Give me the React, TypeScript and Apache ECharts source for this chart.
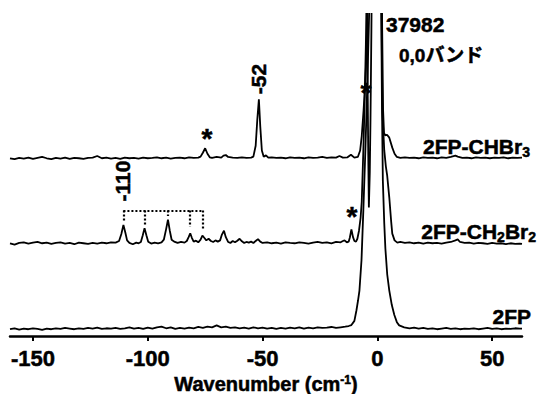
import React, { useEffect, useRef } from "react";
import * as echarts from "echarts";

// x-axis tick values (cm-1)
const xTicks = [-150, -100, -50, 0, 50];

// vertical offsets of the three stacked traces (intensity units)
const traceOffsets = [55.1, 28.7, 2.1];

// 2FP-CHBr3 trace: [wavenumber, intensity above its baseline]
const chbr3: number[][] = [
  [-160, 0.1], [-158, -0.2], [-156, 0.2], [-154, 0.0], [-152, 0.3], [-150, -0.1], [-148, 0.2], [-146, 0.5],
  [-144, 0.1], [-142, -0.2], [-140, 0.2], [-138, 0.0], [-136, 0.3], [-134, -0.1], [-132, 0.2], [-130, 0.1],
  [-128, -0.1], [-126, 0.2], [-124, 0.3], [-122, 0.8], [-120, 0.1], [-118, 0.3], [-116, 0.0], [-114, 0.2],
  [-112, -0.1], [-110, 0.3], [-108, 0.1], [-106, 0.2], [-104, 0.0], [-102, 0.3], [-100, 0.1], [-98, 0.2],
  [-96, 0.4], [-94, 0.1], [-92, 0.3], [-90, 0.0], [-88, 0.2], [-86, 0.3], [-84, 0.1], [-82, 0.4],
  [-80, 0.2], [-78, 0.3], [-77, 0.6], [-76, 1.8], [-75, 3.2], [-74, 1.5], [-73, 0.4], [-72, 0.2],
  [-70, 0.5], [-68, 0.3], [-67, 0.9], [-66, 1.1], [-65, 0.5], [-63, 0.3], [-61, 0.2], [-59, 0.4],
  [-57, 0.2], [-55, 0.3], [-54, 0.6], [-53, 4], [-52.3, 12], [-51.6, 18.4], [-51, 10], [-50.3, 2.5],
  [-49.5, 0.6], [-48.5, 1.0], [-47.5, 0.3], [-46, 0.4], [-44, 0.2], [-42, 0.3], [-40, 0.1], [-38, 0.4],
  [-36, 0.2], [-34, 0.3], [-32, 0.1], [-30, 0.4], [-28, 0.2], [-26, 0.3], [-24, 0.5], [-22, 0.2],
  [-20, 0.4], [-18, 0.3], [-16.5, 0.8], [-15, 0.3], [-13, 0.4], [-11.5, 1.2], [-10, 0.3], [-8.5, 0.5],
  [-7.5, 2.5], [-6.8, 7], [-6, 15], [-5.5, 21], [-5, 28], [-4.5, 38], [-4, 55], [-3.5, 80],
  [-2.5, 150], [-1.2, 250], [0, 200], [1, 150], [1.7, 80], [2.1, 40], [2.5, 15], [2.9, 8],
  [3.4, 7.2], [4.2, 7.4], [5.2, 6.5], [6.5, 3.4], [7.5, 1.5], [8.5, 0.5], [10, 0.2], [12, 0.4],
  [14, 0.2], [16, 0.3], [18, 0.1], [20, 0.4], [22, 0.2], [24, 0.3], [26, 0.1], [28, 0.4],
  [30, 0.2], [32, 0.5], [34, 0.9], [35, 0.6], [37, 0.2], [39, 0.3], [41, 0.1], [43, 0.4],
  [45, 0.2], [47, 0.3], [49, 0.1], [51, 0.3], [53, 0.2], [55, 0.4], [57, 0.1], [59, 0.3],
  [61, 0.2], [63, 0.3],
];

// 2FP-CH2Br2 trace
const ch2br2: number[][] = [
  [-160, 0.1], [-158, -0.3], [-156, 0.2], [-154, 0.4], [-152, 0.0], [-150, 0.3], [-148, 0.5], [-146, 0.1],
  [-144, 0.3], [-142, -0.1], [-140, 0.2], [-138, 0.4], [-136, 0.0], [-134, 0.2], [-132, -0.2], [-130, 0.3],
  [-128, 0.1], [-126, -0.1], [-124, 0.2], [-122, 0.0], [-120, 0.3], [-118, 0.1], [-116, 0.4], [-114, 0.3],
  [-112.5, 0.8], [-111.5, 3], [-110.6, 5.8], [-109.8, 3.5], [-109, 1.0], [-108, 0.2], [-106.5, -0.2], [-105, 0.3],
  [-104, 0.1], [-103, 0.5], [-102.2, 2.5], [-101.4, 4.8], [-100.6, 2.6], [-99.8, 0.6], [-98.5, 0.0], [-97, 0.3],
  [-95.5, 0.1], [-94, 0.4], [-93, 1.2], [-92, 4.5], [-91.2, 7.4], [-90.4, 4], [-89.6, 1.2], [-88.5, 0.6],
  [-87, 0.2], [-85.5, 0.5], [-84, 0.3], [-83, 0.8], [-82.2, 2], [-81.5, 3.2], [-80.8, 1.8], [-80, 0.6],
  [-79, 0.9], [-78, 0.4], [-77, 1.2], [-76.2, 2.5], [-75.4, 1.8], [-74.5, 1.0], [-73.5, 1.5], [-72.5, 0.8],
  [-71.5, 0.5], [-70.5, 1.0], [-69.5, 0.6], [-68.5, 1.0], [-67.7, 2.8], [-66.8, 4.0], [-66, 2.0], [-65, 0.5],
  [-64, 0.2], [-63, 0.8], [-62, 0.4], [-61, 0.9], [-60, 1.5], [-59, 0.7], [-58, 0.2], [-57, 0.5],
  [-56, 0.3], [-55, 0.6], [-54, 0.2], [-53, 0.8], [-52, 1.4], [-51, 0.6], [-50, 0.2], [-48, 0.4],
  [-46, 0.1], [-44, 0.3], [-42, 0.0], [-40, 0.4], [-38, 0.2], [-36, 0.1], [-34, 0.4], [-32, 0.2],
  [-30, 0.0], [-28, 0.3], [-26, 0.5], [-24, 0.2], [-22, 0.4], [-20, 0.1], [-18, 0.5], [-16, 0.4],
  [-15, 0.8], [-14.3, 1.0], [-13.3, 0.4], [-12.5, 0.6], [-12, 1.8], [-11.3, 4.4], [-10.6, 2.0], [-10, 0.8],
  [-9.3, 0.6], [-8.7, 1.5], [-8, 4], [-7.3, 8], [-6.8, 13], [-6.1, 29], [-5.5, 45], [-5, 62],
  [-4.6, 80], [-4.3, 55], [-4, 30], [-3.7, 11.2], [-3.3, 22], [-3, 38], [-2.6, 66], [-2.2, 100],
  [-1.2, 250], [0, 200], [1, 150], [1.7, 80], [2.2, 41], [3, 29], [3.7, 24], [4.3, 21],
  [5.2, 14.3], [6, 7], [6.5, 3.1], [7.5, 1.0], [8.7, 0.3], [10, 0.5], [12, 0.2], [14, 0.4],
  [16, 0.1], [18, 0.3], [20, 0.0], [22, 0.3], [24, 0.1], [26, 0.2], [28, 0.0], [30, 0.3],
  [32, 0.5], [34, 1.0], [35, 1.3], [36, 0.5], [38, 0.2], [40, 0.3], [42, 0.0], [44, 0.2],
  [46, 0.1], [48, -0.1], [50, 0.2], [52, 0.0], [54, 0.1], [56, -0.2], [58, 0.1], [60, -0.1],
  [62, 0.0], [63, -0.1],
];

// 2FP trace
const fp: number[][] = [
  [-160, 0.0], [-158, 0.3], [-156, -0.1], [-154, 0.2], [-152, 0.0], [-150, 0.3], [-148, 0.1], [-146, -0.2],
  [-144, 0.2], [-142, 0.0], [-140, 0.3], [-138, 0.1], [-136, 0.4], [-134, 0.2], [-132, 0.0], [-130, 0.3],
  [-128, 0.1], [-126, 0.4], [-124, 0.2], [-122, 0.5], [-120, 0.1], [-118, 0.3], [-116, 0.2], [-114, 0.4],
  [-112, 0.1], [-110, 0.3], [-108, 0.6], [-106, 0.2], [-104, 0.4], [-102, 0.1], [-100, 0.5], [-98, 0.2],
  [-96, 0.6], [-94, 0.8], [-92, 0.3], [-90, 0.6], [-88, 0.1], [-86, 0.4], [-84, 0.2], [-82, 0.5],
  [-80, 0.3], [-78, 0.7], [-76, 0.4], [-74, 0.8], [-72, 0.6], [-70, 1.2], [-68, 0.6], [-66, 0.8],
  [-64, 0.4], [-62, 0.6], [-60, 0.3], [-58, 0.5], [-56, 0.2], [-54, 0.6], [-52, 0.3], [-50, 0.5],
  [-48, 0.2], [-46, 0.4], [-44, 0.1], [-42, 0.4], [-40, 0.2], [-38, 0.5], [-36, 0.3], [-34, 0.6],
  [-32, 0.2], [-30, 0.5], [-28, 0.3], [-26, 0.6], [-24, 0.4], [-22, 0.5], [-20, 0.7], [-18, 0.4],
  [-16, 0.6], [-14, 0.8], [-12.5, 1.0], [-11.3, 1.3], [-10, 2.6], [-9.1, 5.9], [-8.4, 9], [-7.8, 12],
  [-6.9, 21.5], [-6.1, 37], [-5.2, 56], [-4.3, 78], [-3.5, 100], [-2.5, 160], [-1.2, 300], [0, 230],
  [1, 160], [1.7, 100], [2.0, 70], [2.4, 46], [3, 33], [3.5, 25], [4.3, 17], [5.2, 12],
  [6.3, 7.5], [7.4, 4.4], [8.5, 2.2], [9.5, 1.2], [11.7, 0.6], [14, 0.3], [16, 0.5], [18, 0.2],
  [20, 0.4], [22, 0.1], [24, 0.3], [26, 0.0], [28, 0.2], [30, 0.4], [32, 0.1], [34, 0.3],
  [36, 0.0], [38, 0.2], [40, 0.1], [42, 0.3], [44, 0.0], [46, 0.2], [48, 0.4], [50, 0.1],
  [52, 0.3], [54, 0.0], [56, 0.2], [58, 0.1], [60, 0.3], [62, 0.2], [63, 0.2],
];

// progression ladder over the 2FP-CH2Br2 trace (relative to that trace's baseline)
const ladderX = [-110.6, -101.4, -91.2, -81.5, -76.2];
const ladderBottom = [6.8, 5.8, 8.6, 5.2, 4.2];
const ladderTop = 10.3;

const FONT = '"Liberation Sans", Arial, sans-serif';
const JFONT = '"Liberation Sans", "Noto Sans CJK JP", sans-serif';

export default function App() {
  const ref = useRef<HTMLDivElement>(null);

  useEffect(() => {
    if (!ref.current) return;
    const chart = echarts.init(ref.current, null, { renderer: "svg" });
    const traces = [chbr3, ch2br2, fp];
    const lineSeries = traces.map((t, i) => ({
      type: "line",
      data: t.map(([x, y]) => [x, y + traceOffsets[i]]),
      showSymbol: false,
      symbol: "none",
      clip: true,
      lineStyle: { color: "#000", width: 1.8 },
      z: 3,
    }));

    const ch2Off = traceOffsets[1];
    const ladderLines: any[] = [
      [
        { coord: [ladderX[0], ladderTop + ch2Off] },
        { coord: [ladderX[ladderX.length - 1], ladderTop + ch2Off] },
      ],
      ...ladderX.map((x, i) => [
        { coord: [x, ladderTop + ch2Off] },
        { coord: [x, ladderBottom[i] + ch2Off] },
      ]),
    ];
    (lineSeries[1] as any).markLine = {
      silent: true,
      symbol: ["none", "none"],
      label: { show: false },
      lineStyle: { color: "#000", width: 2.2, type: [2, 2] },
      data: ladderLines,
    };

    const BORDER = { textBorderColor: "#000", textBorderWidth: 0.5 };
    const txt = (extra: any) => ({
      fill: "#000",
      fontFamily: FONT,
      fontWeight: "bold",
      fontSize: 22,
      stroke: "#000",
      lineWidth: 0.5,
      ...extra,
    });
    const subStyle = {
      fontFamily: FONT,
      fontWeight: "bold",
      fontSize: 14,
      verticalAlign: "middle",
      padding: [11, 0, 0, 0],
      fill: "#000",
      stroke: "#000",
      lineWidth: 0.5,
    };

    chart.setOption({
      animation: false,
      grid: { left: 10, right: 15, top: 14, bottom: 58, containLabel: false, outerBoundsMode: "none" },
      xAxis: {
        type: "value",
        min: -160,
        max: 63,
        splitLine: { show: false },
        axisLine: { show: true, onZero: false, lineStyle: { color: "#000", width: 2.5 } },
        axisTick: { show: true, customValues: xTicks, length: 5, lineStyle: { color: "#000", width: 2 } },
        axisLabel: {
          customValues: xTicks,
          color: "#000",
          fontFamily: FONT,
          fontWeight: "bold",
          fontSize: 22,
          margin: 11,
          ...BORDER,
        },
        name: "Wavenumber (cm{sup|-1})",
        nameLocation: "middle",
        nameGap: 27,
        nameTextStyle: {
          color: "#000",
          fontFamily: FONT,
          fontWeight: "bold",
          fontSize: 20,
          ...BORDER,
          rich: {
            sup: {
              fontFamily: FONT,
              fontWeight: "bold",
              fontSize: 12,
              verticalAlign: "top",
              color: "#000",
              ...BORDER,
            },
          },
        },
      },
      yAxis: { type: "value", min: 0, max: 100, show: false },
      series: lineSeries,
      graphic: [
        { type: "text", x: 386, y: 24, style: txt({ text: "37982", fontSize: 21, align: "left", verticalAlign: "middle" }) },
        {
          type: "text",
          x: 399,
          y: 55,
          style: txt({ text: "0,0バンド", fontSize: 19, fontFamily: JFONT, align: "left", verticalAlign: "middle" }),
        },
        {
          type: "text",
          x: 530,
          y: 146,
          style: txt({
            text: "2FP-CHBr{sub|3}",
            fontSize: 21,
            align: "right",
            verticalAlign: "middle",
            rich: { sub: subStyle },
          }),
        },
        {
          type: "text",
          x: 536,
          y: 231,
          style: txt({
            text: "2FP-CH{sub|2}Br{sub|2}",
            fontSize: 21,
            align: "right",
            verticalAlign: "middle",
            rich: { sub: subStyle },
          }),
        },
        { type: "text", x: 531, y: 316, style: txt({ text: "2FP", fontSize: 21, align: "right", verticalAlign: "middle" }) },
        {
          type: "text",
          x: 258,
          y: 79,
          rotation: Math.PI / 2,
          style: txt({ text: "-52", fontSize: 21, align: "center", verticalAlign: "middle" }),
        },
        {
          type: "text",
          x: 122,
          y: 181,
          rotation: Math.PI / 2,
          style: txt({ text: "-110", fontSize: 21, align: "center", verticalAlign: "middle" }),
        },
        { type: "text", x: 207, y: 138, style: txt({ text: "*", fontSize: 28, align: "center", verticalAlign: "middle" }) },
        { type: "text", x: 366, y: 92, style: txt({ text: "*", fontSize: 28, align: "center", verticalAlign: "middle" }) },
        { type: "text", x: 352, y: 216, style: txt({ text: "*", fontSize: 28, align: "center", verticalAlign: "middle" }) },
      ],
    });
    return () => chart.dispose();
  }, []);

  return <div ref={ref} style={{ width: 537, height: 394, position: "absolute", left: 0, top: 0 }} />;
}
